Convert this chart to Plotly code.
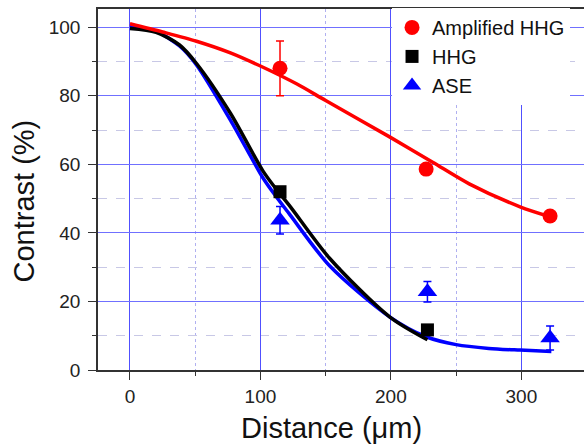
import plotly.graph_objects as go

# ---- data ----
amp_x = [115, 227, 322]
amp_y = [88.0, 58.6, 44.9]
amp_err = [8.0, 0, 0]

hhg_x = [115, 228]
hhg_y = [52.0, 11.7]

ase_x = [115, 228, 322]
ase_y = [43.7, 22.8, 9.3]
ase_err = [4.0, 3.0, 3.5]

# fitted curves
amp_fit_x = [0, 25, 51, 77, 102, 128, 150, 199, 232, 260, 299, 322]
amp_fit_y = [101.0, 98.6, 95.9, 92.5, 88.3, 83.4, 78.6, 68.0, 60.6, 54.3, 47.6, 44.7]
hhg_fit_x = [0, 20, 38, 51, 77, 102, 112, 123, 153, 199, 228]
hhg_fit_y = [99.6, 98.5, 94.8, 89.4, 74.9, 58.0, 52.8, 47.6, 32.6, 15.5, 8.8]
ase_fit_x = [0, 20, 38, 51, 77, 102, 112, 122, 153, 199, 227, 250, 275, 299, 323]
ase_fit_y = [100.3, 98.8, 94.5, 89.0, 72.9, 56.0, 50.6, 45.6, 30.4, 15.5, 9.7, 7.4, 6.3, 5.8, 5.4]

RED = "#ff0000"
BLACK = "#000000"
BLUE = "#0000ff"
FONT = "Liberation Sans, Arial, sans-serif"

fig = go.Figure()

# fit lines
fig.add_trace(go.Scatter(x=ase_fit_x, y=ase_fit_y, mode="lines", line=dict(color=BLUE, width=3.5, shape="spline", smoothing=0.8), showlegend=False, hoverinfo="skip"))
fig.add_trace(go.Scatter(x=hhg_fit_x, y=hhg_fit_y, mode="lines", line=dict(color=BLACK, width=3.5, shape="spline", smoothing=0.8), showlegend=False, hoverinfo="skip"))
fig.add_trace(go.Scatter(x=amp_fit_x, y=amp_fit_y, mode="lines", line=dict(color=RED, width=3.5, shape="spline", smoothing=0.8), showlegend=False, hoverinfo="skip"))

# data points
fig.add_trace(go.Scatter(x=amp_x, y=amp_y, mode="markers", name="Amplified HHG",
                         marker=dict(symbol="circle", size=15, color=RED),
                         error_y=dict(type="data", array=amp_err, color=RED, thickness=1.5, width=4)))
fig.add_trace(go.Scatter(x=hhg_x, y=hhg_y, mode="markers", name="HHG",
                         marker=dict(symbol="square", size=13, color=BLACK)))
fig.add_trace(go.Scatter(x=ase_x, y=ase_y, mode="markers", name="ASE",
                         marker=dict(symbol="triangle-up", size=17, color=BLUE),
                         error_y=dict(type="data", array=ase_err, color=BLUE, thickness=1.5, width=4)))

fig.update_layout(
    width=584, height=444,
    margin=dict(l=98, r=0, t=9, b=74),
    paper_bgcolor="white", plot_bgcolor="white",
    font=dict(family=FONT, size=19, color="#222222"),
    legend=dict(x=0.605, y=1.003, xanchor="left", yanchor="top",
                bgcolor="white", borderwidth=0, font=dict(size=20, color="#111111"),
                itemsizing="trace"),
    xaxis=dict(range=[-24.5, 348], dtick=100, tick0=0,
               showline=True, linecolor="#333333", linewidth=1.5, mirror=True,
               ticks="outside", ticklen=8, tickwidth=1.3, tickcolor="#333333",
               showgrid=True, gridcolor="#5050ff", gridwidth=1, zeroline=False,
               minor=dict(dtick=50, ticks="outside", ticklen=4, tickcolor="#333333",
                          showgrid=True, gridcolor="#b0b0f0", griddash="dot", gridwidth=1)),
    yaxis=dict(range=[0, 105.3], dtick=20, tick0=0,
               showline=True, linecolor="#333333", linewidth=1.5, mirror=False,
               ticks="outside", ticklen=8, tickwidth=1.3, tickcolor="#333333",
               ticklabelstandoff=4,
               showgrid=True, gridcolor="#7070ff", gridwidth=1, zeroline=False,
               minor=dict(dtick=10, ticks="outside", ticklen=4, tickcolor="#333333",
                          showgrid=True, gridcolor="#c8c8e6", griddash="dash", gridwidth=1)),
    annotations=[
        dict(text="Contrast (%)", xref="paper", yref="paper",
             x=(23.5 - 98) / 486, y=(370 - 201) / 361, xanchor="center", yanchor="middle",
             textangle=-90, showarrow=False, font=dict(size=29, color="#111111")),
        dict(text="Distance (\u03bcm)", xref="paper", yref="paper",
             x=(331 - 98) / 486, y=(370 - 428) / 361, xanchor="center", yanchor="middle",
             showarrow=False, font=dict(size=29, color="#111111")),
    ],
)

fig.write_html("out.html", config={"displayModeBar": False},
               post_script="document.body.style.margin='0px';document.body.style.overflow='hidden';")
